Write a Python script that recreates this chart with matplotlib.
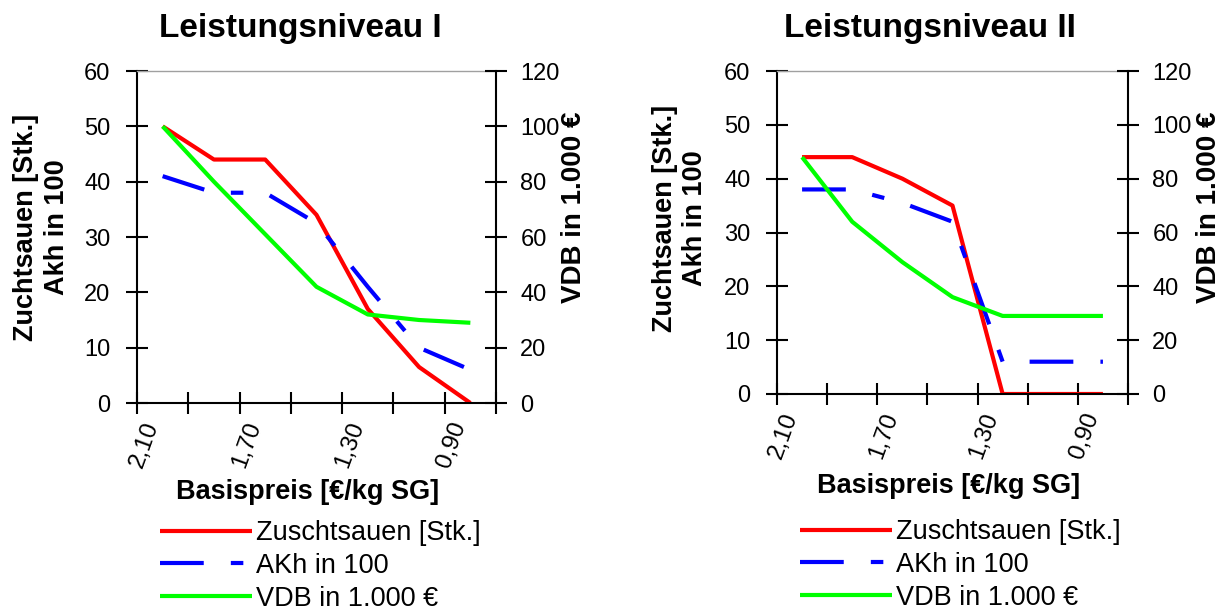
import matplotlib
matplotlib.use('Agg')
import matplotlib.pyplot as plt
from matplotlib.lines import Line2D

plt.rcParams['font.family'] = ['Liberation Sans', 'DejaVu Sans']

# ---------------- data ----------------
cats = ["2,10", "1,90", "1,70", "1,50", "1,30", "1,10", "0,90"]
label_idx = [0, 2, 4, 6]

l1_sauen = [50, 44, 44, 34, 17, 6.5, 0]
l1_akh = [41, 38, 38, 32.5, 21, 10, 6]
l1_vdb = [100, 80, 61, 42, 32, 30, 29]

l2_sauen = [44, 44, 40, 35, 0, 0, 0]
l2_akh = [38, 38, 35.5, 32, 6, 6, 6]
l2_vdb = [88, 64, 49, 36, 29, 29, 29]

series_names = ["Zuschtsauen [Stk.]", "AKh in 100", "VDB in 1.000 €"]
titles = ["Leistungsniveau I", "Leistungsniveau II"]
xlabel = "Basispreis [€/kg SG]"
ylabel_left = "Zuchtsauen [Stk.]\nAkh in 100"
ylabel_right = "VDB in 1.000 €"

# ---------------- layout ----------------
W, H = 1223, 612
fig = plt.figure(figsize=(W / 100, H / 100), dpi=100)

RED, BLUE, GREEN = '#ff0000', '#0000ff', '#00ff00'
LW = 3
DASH = (10.5, 6.5, 3, 6.5)


def frac(x, y):
    return x / W, 1 - y / H


def axrect(x0, y0, x1, y1):
    return [x0 / W, 1 - y1 / H, (x1 - x0) / W, (y1 - y0) / H]


def panel(rect, sauen, akh, vdb, title, title_xy, xlab_xy, ylab_xy, ylab2_xy, leg_xy):
    ax = fig.add_axes(rect)
    x = list(range(len(cats)))
    ax.plot(x, sauen, color=RED, lw=LW, solid_joinstyle='round', solid_capstyle='butt')
    ax.plot(x, akh, color=BLUE, lw=LW, dashes=DASH, dash_capstyle='butt')
    ax2 = ax.twinx()
    ax2.plot(x, vdb, color=GREEN, lw=LW, solid_joinstyle='round', solid_capstyle='butt')

    ax.set_xlim(-0.5, len(cats) - 0.5)
    ax.set_ylim(0, 60)
    ax2.set_ylim(0, 120)
    ax.set_yticks(range(0, 61, 10))
    ax2.set_yticks(range(0, 121, 20))

    ax.set_xticks([i - 0.5 for i in range(len(cats) + 1)])
    ax.set_xticklabels([])
    ax.set_xticks(label_idx, minor=True)
    ax.set_xticklabels([cats[i] for i in label_idx], minor=True, rotation=70,
                       ha='right', fontsize=17.5)
    ax.tick_params(axis='x', which='major', direction='inout', length=16, width=1.5,
                   color='black')
    ax.tick_params(axis='x', which='minor', length=0, pad=11.5)
    ax.tick_params(axis='y', direction='inout', length=16, width=1.5, labelsize=17,
                   pad=11)
    ax2.tick_params(axis='y', direction='inout', length=16, width=1.5, labelsize=17,
                    pad=9.5)

    for a in (ax, ax2):
        a.spines['top'].set_visible(False)
    ax.spines['top'].set_visible(True)
    ax.spines['top'].set_color('#a0a0a0')
    ax.spines['top'].set_linewidth(1)
    ax.spines['left'].set_linewidth(1.5)
    ax.spines['bottom'].set_linewidth(1.5)
    ax.spines['right'].set_visible(False)
    ax2.spines['left'].set_visible(False)
    ax2.spines['bottom'].set_visible(False)
    ax2.spines['right'].set_linewidth(1.5)

    fig.text(*frac(*title_xy), title, ha='center', va='center', fontsize=24,
             fontweight='bold')
    fig.text(*frac(*xlab_xy), xlabel, ha='center', va='center', fontsize=19.5,
             fontweight='bold')
    fig.text(*frac(*ylab_xy), ylabel_left, ha='center', va='center', fontsize=19.5,
             fontweight='bold', rotation=90, multialignment='center', linespacing=1.25)
    fig.text(*frac(*ylab2_xy), ylabel_right, ha='center', va='center', fontsize=20,
             fontweight='bold', rotation=90)

    handles = [Line2D([], [], color=RED, lw=LW, solid_capstyle='butt'),
               Line2D([], [], color=BLUE, lw=LW, dashes=DASH, dash_capstyle='butt'),
               Line2D([], [], color=GREEN, lw=LW, solid_capstyle='butt')]
    fig.legend(handles, series_names, loc='upper left', bbox_to_anchor=frac(*leg_xy),
               frameon=False, fontsize=19.5, handlelength=3.4, handletextpad=0.15,
               labelspacing=0.25, borderaxespad=0, borderpad=0)


panel(axrect(137, 71, 496, 403), l1_sauen, l1_akh, l1_vdb, titles[0],
      (300, 28), (308, 492), (42, 227), (574, 207), (160, 520))
panel(axrect(777, 71, 1128, 394), l2_sauen, l2_akh, l2_vdb, titles[1],
      (930, 28), (949, 486), (680, 218), (1209, 207), (800, 519))

fig.savefig('out.png', dpi=100)
